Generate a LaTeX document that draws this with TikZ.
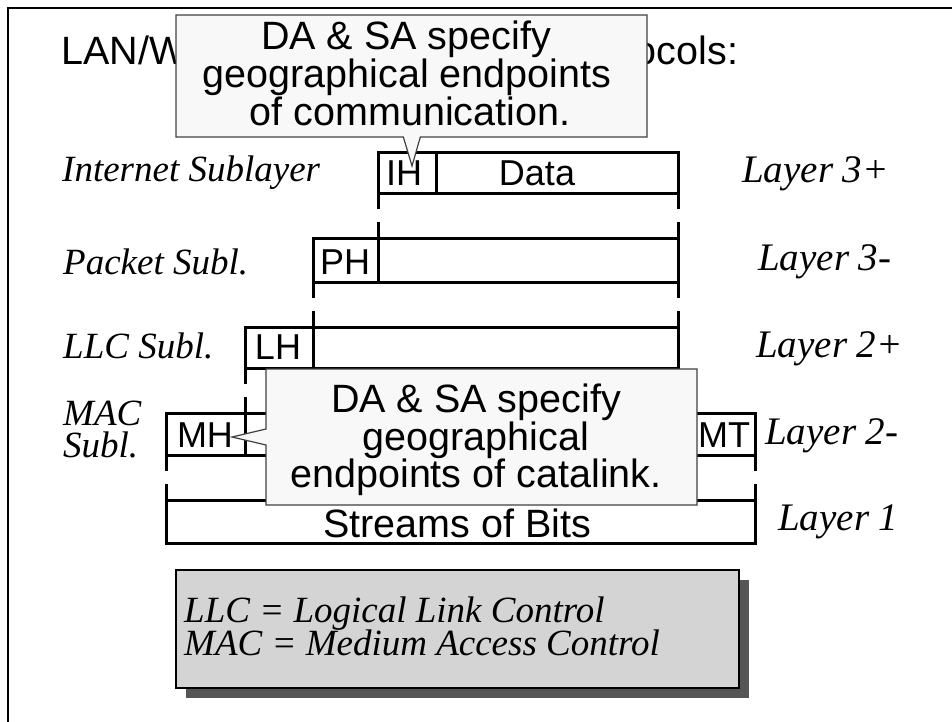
\documentclass[tikz,border=0pt]{standalone}
\usepackage{fontspec}
\setmainfont{Liberation Serif}
\setsansfont{Liberation Sans}
\usetikzlibrary{shapes.callouts,fit}

\definecolor{callfill}{HTML}{F8F8F8}
\definecolor{calledge}{HTML}{404040}
\definecolor{legfill}{HTML}{D4D4D4}
\definecolor{shadowc}{HTML}{555555}

\begin{document}
\begin{tikzpicture}[x=1pt,y=-1pt,
  frameline/.style={line width=2.5pt},
  field/.style={draw, line width=3pt, inner sep=0pt, outer sep=0pt},
  dashline/.style={line width=3pt, dash pattern=on 16pt off 13pt},
  sanslbl/.style={font=\sffamily\fontsize{36}{36}\selectfont, inner sep=0pt, anchor=base},
  bigsans/.style={font=\sffamily\fontsize{39.5}{38}\selectfont, inner sep=0pt, anchor=base},
  layerlbl/.style={font=\itshape\fontsize{39}{39}\selectfont, inner sep=0pt, anchor=base west},
  sublbl/.style={font=\itshape\fontsize{37}{32}\selectfont, inner sep=0pt, anchor=base west},
  callbox/.style={rectangle callout, draw=calledge, line width=1.2pt, fill=callfill, inner sep=0pt, outer sep=0pt},
]
\useasboundingbox (0,0) rectangle (952,721);
\clip (0,0) rectangle (952,721);

% frame
\draw[frameline] (8,730) -- (8,8) -- (960,8);

% title (partly hidden by the first callout)
\node[bigsans, anchor=base west] (title) at (61,64) {LAN/WAN Sublayers \& their Protocols:};

% packet rows
\node[field, fit={(378,152) (436,193)}] (ih) {};
\node[field, fit={(436,152) (678,193)}] (data) {};
\node[field, fit={(313,238) (378,282)}] (ph) {};
\node[field, fit={(378,238) (678,282)}] (pdata) {};
\node[field, fit={(245,327) (313,368)}] (lh) {};
\node[field, fit={(313,327) (678,368)}] (ldata) {};
\node[field, fit={(166,413) (245,455)}] (mh) {};
\node[field, fit={(245,413) (693,455)}] (mdata) {};
\node[field, fit={(693,413) (755,455)}] (mt) {};
\node[field, fit={(166,500) (755,543)}] (bits) {};

% dashed encapsulation lines
\draw[dashline] (ih.south west) -- (pdata.north west);
\draw[dashline] (data.south east) -- (pdata.north east);
\draw[dashline] (ph.south west) -- (ldata.north west);
\draw[dashline] (pdata.south east) -- (ldata.north east);
\draw[dashline] (lh.south west) -- (mdata.north west);
\draw[dashline] (ldata.south east) -- (ldata.south east |- mdata.north);
\draw[dashline] (mh.south west) -- (bits.north west);
\draw[dashline] (mt.south east) -- (bits.north east);

% field labels
\node[sanslbl] (ihl) at (404,185) {IH};
\node[sanslbl] (datal) at (537,185) {Data};
\node[sanslbl] (phl) at (345,274) {PH};
\node[sanslbl] (lhl) at (278,359) {LH};
\node[sanslbl] (mhl) at (205,447) {MH};
\node[sanslbl] (mtl) at (724,447) {MT};
\node[bigsans] (bitsl) at (457,537) {Streams of Bits};

% left sublayer labels
\node[sublbl] (l1) at (62,181) {Internet Sublayer};
\node[sublbl] (l2) at (63,274) {Packet Subl.};
\node[sublbl] (l3) at (63,358) {LLC Subl.};
\node[sublbl] (l4a) at (63,425) {MAC};
\node[sublbl] (l4b) at (63,457) {Subl.};

% right layer labels
\node[layerlbl] (r1) at (742,182) {Layer 3+};
\node[layerlbl] (r2) at (758,270) {Layer 3-};
\node[layerlbl] (r3) at (756,357) {Layer 2+};
\node[layerlbl] (r4) at (765,444) {Layer 2-};
\node[layerlbl] (r5) at (778,530) {Layer 1};

% callout 1
\node[callbox, minimum width=471pt, minimum height=122pt,
      callout absolute pointer={(412,166)}, callout pointer width=17pt] (c1) at (411.5,76) {};
\node[bigsans] (c1a) at (406,49) {DA \& SA specify};
\node[bigsans] (c1b) at (407,87) {geographical endpoints};
\node[bigsans] (c1c) at (410,125) {of communication.};

% callout 2
\node[callbox, minimum width=431pt, minimum height=136pt,
      callout absolute pointer={(232,437)}, callout pointer width=16pt] (c2) at (481.5,437) {};
\node[bigsans] (c2a) at (476,412) {DA \& SA specify};
\node[bigsans] (c2b) at (476,450) {geographical};
\node[bigsans] (c2c) at (476,487) {endpoints of catalink.};

% legend with shadow
\node[fill=shadowc, inner sep=0pt, outer sep=0pt, minimum width=563pt, minimum height=118pt] (legshadow) at (467.5,639) {};
\node[draw, line width=1.2pt, fill=legfill, inner sep=0pt, outer sep=0pt, minimum width=563pt, minimum height=118pt] (legend) at (457.5,629) {};
\node[sublbl] (leg1) at (184,622) {LLC = Logical Link Control};
\node[sublbl] (leg2) at (184,655) {MAC = Medium Access Control};
\end{tikzpicture}
\end{document}
